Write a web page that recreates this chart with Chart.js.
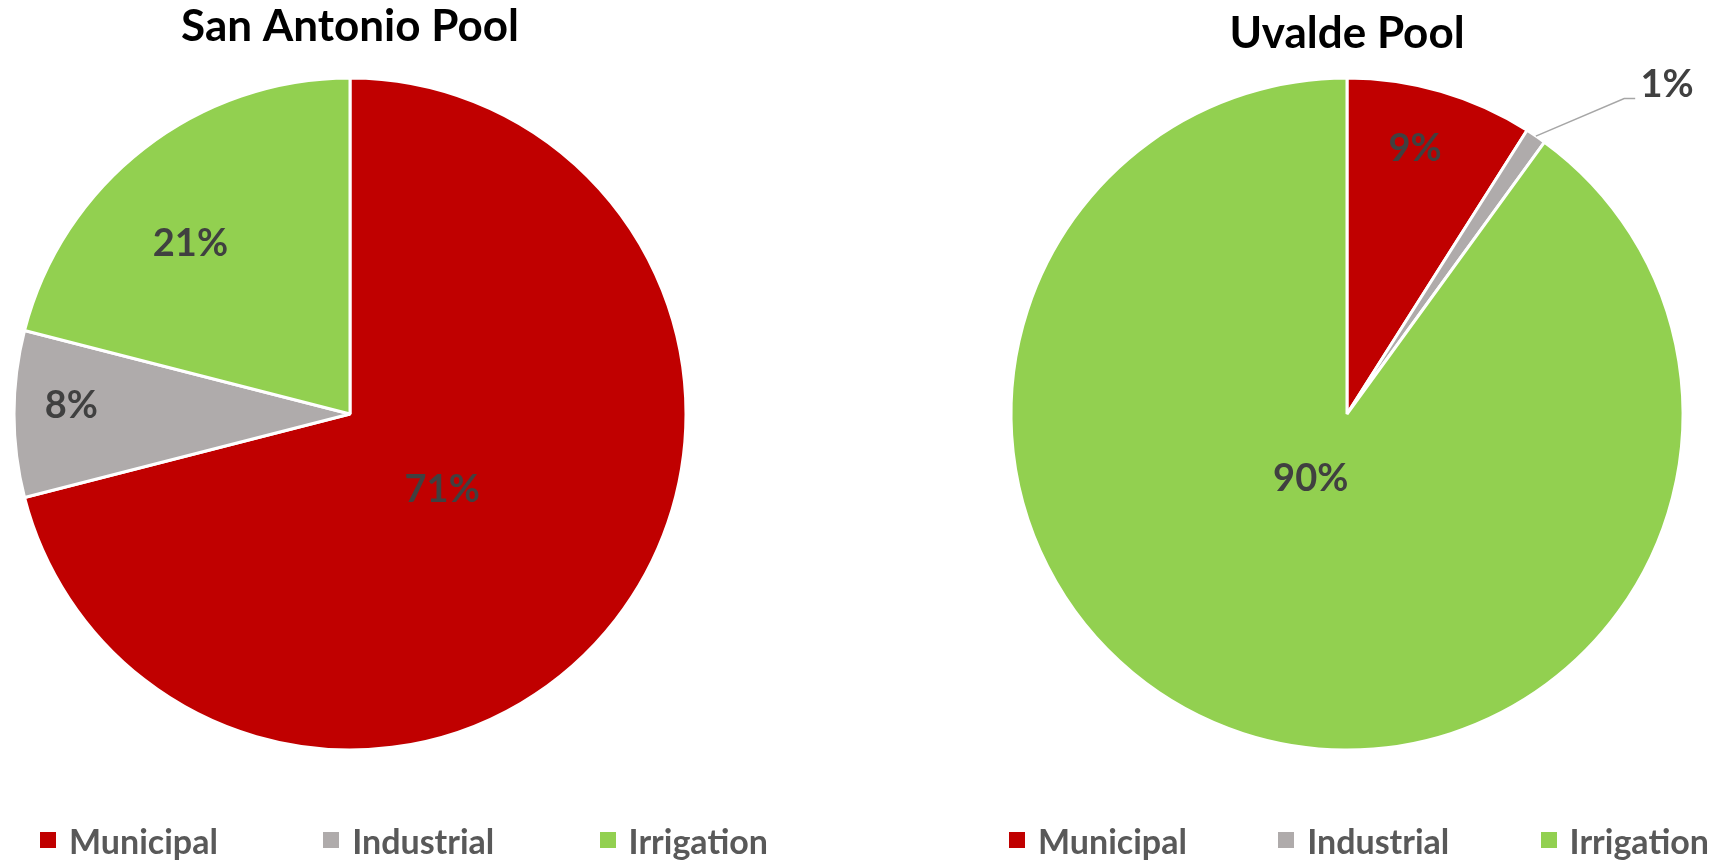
<!DOCTYPE html>
<html>
<head>
<meta charset="utf-8">
<title>San Antonio Pool / Uvalde Pool</title>
<script src="https://cdn.jsdelivr.net/npm/chart.js@4.4.1/dist/chart.umd.min.js"></script>
<style>
    html, body { margin: 0; padding: 0; background: #fff; }
    body { width: 1711px; height: 861px; position: relative; overflow: hidden; font-family: Lato, sans-serif; }
    .box { position: absolute; top: 0; height: 861px; }
    #leftBox { left: 0; width: 700px; }
    #rightBox { left: 1000px; width: 694px; }
    .legend { position: absolute; top: 820px; height: 40px; margin: 0; padding: 0; list-style: none;
              display: flex; justify-content: space-between; align-items: center; }
    #leftLegend { left: 40px; width: 728px; }
    #rightLegend { left: 1009px; width: 700px; }
    .legend li { display: flex; align-items: center; font-weight: 700; font-size: 34px; color: #595959; white-space: nowrap; }
    .legend li span { display: inline-block; width: 16px; height: 16px; margin-right: 13px; }
</style>
</head>
<body>
<div class="box" id="leftBox"><canvas id="sanAntonio"></canvas></div>
<div class="box" id="rightBox"><canvas id="uvalde"></canvas></div>
<ul class="legend" id="leftLegend"></ul>
<ul class="legend" id="rightLegend"></ul>

<script>
const categories = ['Municipal', 'Industrial', 'Irrigation'];
const sanAntonioShares = [71, 8, 21];
const uvaldeShares = [9, 1, 90];

const sliceColors = ['#C00000', '#AFABAB', '#92D050'];

Chart.defaults.font.family = 'Lato';

// legend built as html so it can sit where the original one is
const htmlLegend = {
    id: 'htmlLegend',
    afterUpdate(chart, args, opts) {
        const list = document.getElementById(opts.containerID);
        list.innerHTML = '';
        const items = chart.options.plugins.legend.labels.generateLabels(chart);
        items.forEach(item => {
            const li = document.createElement('li');
            const box = document.createElement('span');
            box.style.background = item.fillStyle;
            li.appendChild(box);
            li.appendChild(document.createTextNode(item.text));
            list.appendChild(li);
        });
    }
};

// percentage labels on the slices (r in radius units, shift in degrees from mid angle)
const sliceLabels = {
    id: 'sliceLabels',
    afterDatasetsDraw(chart, args, opts) {
        const {ctx} = chart;
        const meta = chart.getDatasetMeta(0);
        const values = chart.data.datasets[0].data;
        const total = values.reduce((a, b) => a + b, 0);
        ctx.save();
        ctx.font = `bold ${opts.size}px Lato`;
        ctx.fillStyle = opts.color;
        ctx.textAlign = 'center';
        ctx.textBaseline = 'middle';
        meta.data.forEach((arc, i) => {
            const {x, y, startAngle, endAngle, outerRadius} =
                arc.getProps(['x', 'y', 'startAngle', 'endAngle', 'outerRadius'], true);
            const place = opts.placement[i];
            const mid = (startAngle + endAngle) / 2;
            const at = (r, shift) => {
                const a = mid + shift * Math.PI / 180;
                return [x + Math.cos(a) * r * outerRadius, y + Math.sin(a) * r * outerRadius];
            };
            if (place.leader) {
                const [x0, y0] = at(1, 0);
                const [x1, y1] = at(place.leader.r, place.leader.shift);
                ctx.beginPath();
                ctx.moveTo(x0, y0);
                ctx.lineTo(x1, y1);
                ctx.lineTo(x1 + place.leader.tail, y1);
                ctx.strokeStyle = opts.leaderColor;
                ctx.lineWidth = 1.5;
                ctx.stroke();
            }
            const [lx, ly] = at(place.r, place.shift);
            ctx.fillText(Math.round(values[i] / total * 100) + '%', lx, ly);
        });
        ctx.restore();
    }
};

function makePie(canvasId, title, shares, legendId, placement, titlePadding) {
    return new Chart(document.getElementById(canvasId), {
        type: 'pie',
        data: {
            labels: categories,
            datasets: [{
                data: shares,
                backgroundColor: sliceColors,
                borderColor: '#ffffff',
                borderWidth: 3,
                hoverOffset: 0
            }]
        },
        options: {
            responsive: true,
            maintainAspectRatio: false,
            animation: false,
            events: [],
            layout: {padding: {bottom: 109.5}},
            plugins: {
                legend: {display: false},
                tooltip: {enabled: false},
                title: {
                    display: true,
                    text: title,
                    color: '#000000',
                    font: {size: 44, weight: 'bold'},
                    padding: titlePadding
                },
                htmlLegend: {containerID: legendId},
                sliceLabels: {
                    size: 38,
                    color: '#404040',
                    leaderColor: '#A6A6A6',
                    placement: placement
                }
            }
        },
        plugins: [htmlLegend, sliceLabels]
    });
}

makePie('sanAntonio', 'San Antonio Pool', sanAntonioShares, 'leftLegend', [
    {r: 0.356, shift: 1.8},
    {r: 0.83, shift: 1.6},
    {r: 0.695, shift: -5.3}
], {top: 0, bottom: 23.7});

makePie('uvalde', 'Uvalde Pool', uvaldeShares, 'rightLegend', [
    {r: 0.815, shift: -1.8},
    {r: 1.366, shift: 10, leader: {r: 1.25, shift: 7.1, tail: 11}},
    {r: 0.22, shift: 11.4}
], {top: 7, bottom: 16.7});
</script>
</body>
</html>
